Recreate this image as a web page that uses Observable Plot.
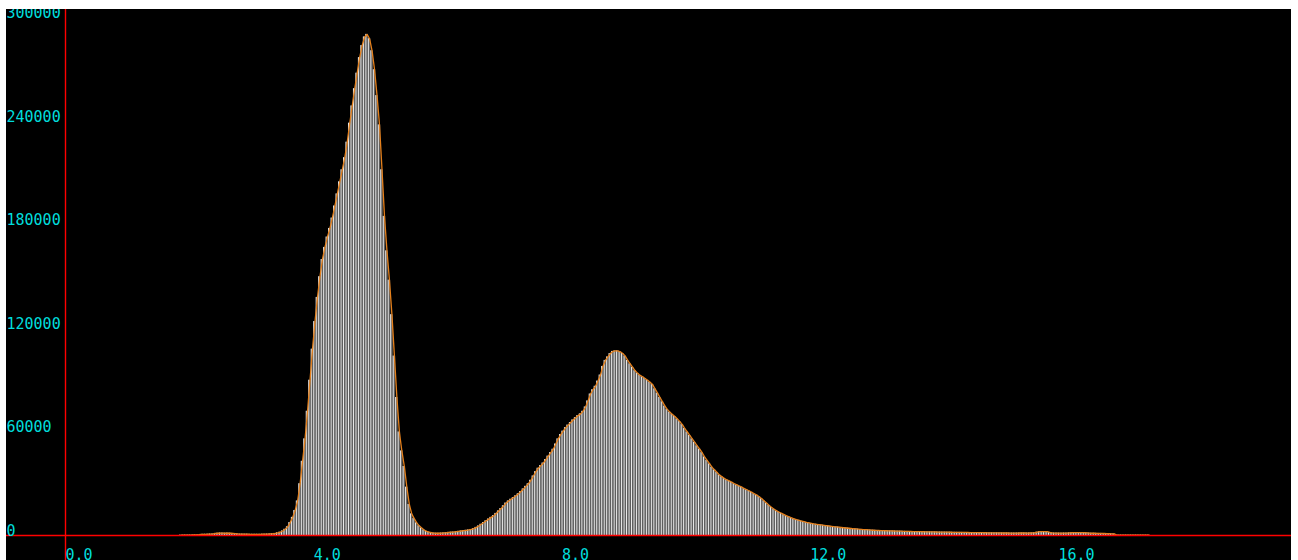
<!DOCTYPE html>
<html>
<head>
<meta charset="utf-8">
<script src="https://cdn.jsdelivr.net/npm/d3@7"></script>
<script src="https://cdn.jsdelivr.net/npm/@observablehq/plot@0.6"></script>
<style>
  html, body { margin: 0; padding: 0; background: #ffffff; }
  #chart { position: absolute; left: 6px; top: 9px; }
</style>
</head>
<body>
<div id="chart"></div>
<script>
// Histogram: bins of width 0.04 starting at 1.84
const binStart = 1.84;
const binWidth = 0.04;

// Counts per bin, one row per unit of x (row label = x of first bin)
const counts = [
  // 1.84
  200, 200, 250, 250,
  // 2.00
  250, 300, 300, 350, 600, 700, 700, 750, 800, 900, 1200, 1300, 1400, 1400, 1300, 1400, 1300, 1200, 1100, 900, 800, 800, 750, 750, 700,
  // 3.00
  700, 700, 700, 700, 750, 750, 800, 900, 1000, 1200, 1500, 1900, 2600, 3600, 5000, 7500, 10500, 14500, 20000, 30000, 43000, 56000, 72000, 90000, 108000,
  // 4.00
  124000, 138000, 150000, 160000, 167000, 173000, 178000, 184000, 191000, 198000, 205000, 212000, 219000, 228000, 239000, 249000, 259000, 268000, 277000, 284000, 289000, 290500, 288000, 281000, 270000,
  // 5.00
  255000, 238000, 212000, 185000, 165000, 148000, 128000, 104000, 80000, 60000, 49000, 40000, 28000, 18000, 12500, 9800, 7300, 5600, 4300, 3200, 2400, 1900, 1600, 1400, 1300,
  // 6.00
  1300, 1400, 1500, 1600, 1800, 1900, 2000, 2200, 2400, 2600, 2800, 3000, 3200, 3500, 4000, 4700, 5500, 6500, 7500, 8500, 9500, 10500, 11500, 12800, 14200,
  // 7.00
  15600, 17200, 18800, 20000, 21000, 22000, 23000, 24200, 25500, 27000, 28500, 30000, 32000, 34500, 37000, 39000, 40500, 42000, 44000, 46000, 48000, 50000, 53000, 56000, 58500,
  // 8.00
  60500, 62500, 64000, 65500, 67000, 68300, 69500, 70500, 72000, 74500, 78000, 82000, 84500, 86500, 89500, 93000, 98000, 101500, 103500, 105500, 106700, 107000, 107000, 106500, 105500,
  // 9.00
  104000, 101500, 99500, 97500, 95500, 94000, 92800, 92000, 91000, 90000, 88800, 87500, 85000, 82500, 80000, 77500, 75000, 73000, 71500, 70200, 69000, 67500, 66000, 64300, 62000,
  // 10.00
  60000, 58000, 56000, 54000, 52000, 50000, 48000, 45500, 43500, 41500, 39500, 38000, 36500, 35000, 34000, 33000, 32200, 31500, 30800, 30000, 29300, 28600, 28000, 27200, 26500,
  // 11.00
  25800, 25000, 24200, 23400, 22500, 21300, 20000, 18700, 17400, 16200, 15200, 14300, 13500, 12800, 12100, 11400, 10800, 10200, 9700, 9200, 8800, 8400, 8000, 7600, 7300,
  // 12.00
  7000, 6700, 6500, 6300, 6100, 5900, 5700, 5500, 5300, 5100, 4950, 4800, 4650, 4500, 4350, 4200, 4050, 3900, 3800, 3650, 3550, 3450, 3350, 3250, 3150,
  // 13.00
  3050, 2980, 2900, 2850, 2800, 2750, 2700, 2650, 2600, 2560, 2520, 2480, 2440, 2400, 2360, 2320, 2290, 2260, 2230, 2200, 2170, 2140, 2110, 2080, 2050,
  // 14.00
  2020, 2000, 1980, 1950, 1930, 1900, 1880, 1860, 1840, 1820, 1800, 1780, 1760, 1740, 1720, 1700, 1680, 1660, 1640, 1620, 1600, 1580, 1560, 1540, 1520,
  // 15.00
  1500, 1480, 1460, 1450, 1440, 1430, 1420, 1420, 1430, 1450, 1480, 1450, 1430, 1450, 1500, 1600, 1900, 2200, 2300, 2300, 2200, 1800, 1500, 1400, 1400,
  // 16.00
  1350, 1350, 1400, 1400, 1500, 1600, 1700, 1700, 1700, 1650, 1600, 1500, 1400, 1300, 1300, 1250, 1200, 1200, 1150, 1100, 1050, 1000, 900, 250, 200,
  // 17.00
  200, 200, 200, 200, 200, 200, 200, 200, 200, 200, 200, 200
];

const xTicks = [0, 4, 8, 12, 16];
const yTicks = [0, 60000, 120000, 180000, 240000, 300000];

const bins = counts.map((n, i) => {
  const x0 = binStart + i * binWidth;
  return {x0, x1: x0 + binWidth, mid: x0 + binWidth / 2, n};
});

// Frame geometry (pixels)
const W = 1285, H = 551;
const originX = 59, pxPerUnitX = 62.06;
const originY = 526, pxPerUnitY = 517.5 / 300000;

const axisRed = "#ff0000";
const labelCyan = "#00dcdc";
const font = "DejaVu Sans Mono";

const chart = Plot.plot({
  width: W,
  height: H,
  margin: 0,
  style: {background: "#000000", overflow: "hidden", fontFamily: font, fontSize: "15px"},
  x: {domain: [-originX / pxPerUnitX, (W - originX) / pxPerUnitX], axis: null},
  y: {domain: [-(H - originY) / pxPerUnitY, originY / pxPerUnitY], axis: null},
  marks: [
    Plot.rectY(bins, {x1: "x0", x2: "x1", y: "n", fill: "#5e5e5e"}),
    Plot.ruleX(bins, {x: "x0", y1: 0, y2: "n", stroke: "#ececec", strokeWidth: 1}),
    Plot.line(bins, {x: "mid", y: "n", stroke: "#e5801c", strokeWidth: 1.3}),
    // axis lines through the origin
    Plot.ruleY([0], {stroke: axisRed, strokeWidth: 1.4}),
    Plot.ruleX([0], {stroke: axisRed, strokeWidth: 1.4}),
    Plot.text(yTicks, {
      y: d => d, text: d => String(d),
      frameAnchor: "left", textAnchor: "start", lineAnchor: "bottom",
      fill: labelCyan, fontFamily: font, fontSize: 15
    }),
    Plot.text(xTicks, {
      x: d => d, text: d => d.toFixed(1),
      frameAnchor: "bottom", textAnchor: "start", lineAnchor: "bottom", dy: -1,
      fill: labelCyan, fontFamily: font, fontSize: 15
    })
  ]
});

document.getElementById("chart").appendChild(chart);
</script>
</body>
</html>
